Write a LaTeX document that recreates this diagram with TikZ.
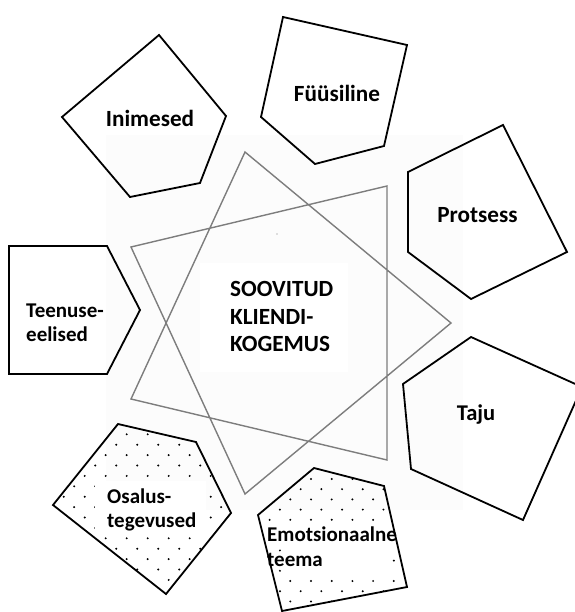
\documentclass[tikz,border=0pt]{standalone}
\usepackage{fontspec}
\setmainfont{Carlito}
\definecolor{stargray}{RGB}{125,125,125}
\definecolor{faint}{RGB}{252,252,252}
\begin{document}
\begin{tikzpicture}[x=1pt,y=-1pt,
  pent/.style={draw=black,line width=1.8pt,line join=miter},
  starline/.style={draw=stargray,line width=1.4pt,line join=miter},
  lbl/.style={font=\fontsize{23.2}{27}\selectfont\bfseries,inner sep=0pt},
  lbls/.style={font=\fontsize{21}{25}\selectfont\bfseries,inner sep=0pt},
  dotmark/.style={fill=black}
]
\useasboundingbox (0,0) rectangle (574,612);
% faint background
\fill[faint] (106,135) rectangle (463,510);
\fill[white] (200,263) rectangle (348,372);
% star (closed path)
\draw[starline] (245,152) -- (451,323) -- (245,494) -- (131,247) -- (387,186) -- (387,460) -- (131,399) -- cycle;
\fill[stargray] (277,234) circle (0.7);
% dots in Osalus-tegevused
\begin{scope}
\clip (118,424)--(196,442)--(231,513)--(166,594)--(53,505)--cycle;
\foreach \k in {0,...,18}{
  \foreach \m in {-4,...,6}{
    \pgfmathsetmacro{\yy}{413.5+10.4*\k}
    \pgfmathsetmacro{\xx}{126.7+21*\m-10.5*mod(\k,2)}
    \fill[dotmark] (\xx,\yy) circle (1.1);
  }}
\end{scope}
\fill[white] (95,481) rectangle (206,532);
% dots in Emotsionaalne teema
\begin{scope}
\clip (314,468)--(384,486)--(407,587)--(282,611)--(258,515)--cycle;
\foreach \k in {0,...,16}{
  \foreach \m in {-3,...,6}{
    \pgfmathsetmacro{\yy}{458.6+10.2*\k}
    \pgfmathsetmacro{\xx}{311+20.7*\m-10.35*mod(\k,2)}
    \fill[dotmark] (\xx,\yy) circle (1.1);
  }}
\end{scope}
\fill[white] (266,524) rectangle (398,546);
\fill[white] (283,546) rectangle (388,577);
% pentagons
\draw[pent] (159,35)--(226,116)--(200,183)--(130,197)--(62,117)--cycle;
\draw[pent] (283,17)--(407,45)--(384,146)--(315,164)--(261,117)--cycle;
\draw[pent] (503,125)--(567,252)--(471,299)--(408,252)--(408,172)--cycle;
\draw[pent] (9,246)--(107,246)--(140,310)--(107,374)--(9,374)--cycle;
\draw[pent] (471,337)--(582,387)--(523,520)--(411,469)--(403,384)--cycle;
\draw[pent] (118,424)--(196,442)--(231,513)--(166,594)--(53,505)--cycle;
\draw[pent] (314,468)--(384,486)--(407,587)--(282,611)--(258,515)--cycle;
% labels
\node[lbl,anchor=base] (inim) at (150,127) {Inimesed};
\node[lbl,anchor=base] (fuus) at (337,101.7) {Füüsiline};
\node[lbl,anchor=base] (prot) at (477.5,222.5) {Protsess};
\node[lbl,anchor=base,font=\fontsize{22.5}{26}\selectfont\bfseries] (taju) at (476,420) {Taju};
\node[lbls,anchor=base west] (teen1) at (26,317.3) {Teenuse-};
\node[lbls,anchor=base west] (teen2) at (26,341.7) {eelised};
\node[lbl,anchor=base west] (c1) at (230,296) {SOOVITUD};
\node[lbl,anchor=base west] (c2) at (230,324.5) {KLIENDI-};
\node[lbl,anchor=base west] (c3) at (230,351.5) {KOGEMUS};
\node[lbls,anchor=base west] (o1) at (107,503.3) {Osalus-};
\node[lbls,anchor=base west] (o2) at (107,527.7) {tegevused};
\node[lbls,anchor=base west] (e1) at (267,541.7) {Emotsionaalne};
\node[lbls,anchor=base west] (e2) at (267,566.7) {teema};
\end{tikzpicture}
\end{document}
